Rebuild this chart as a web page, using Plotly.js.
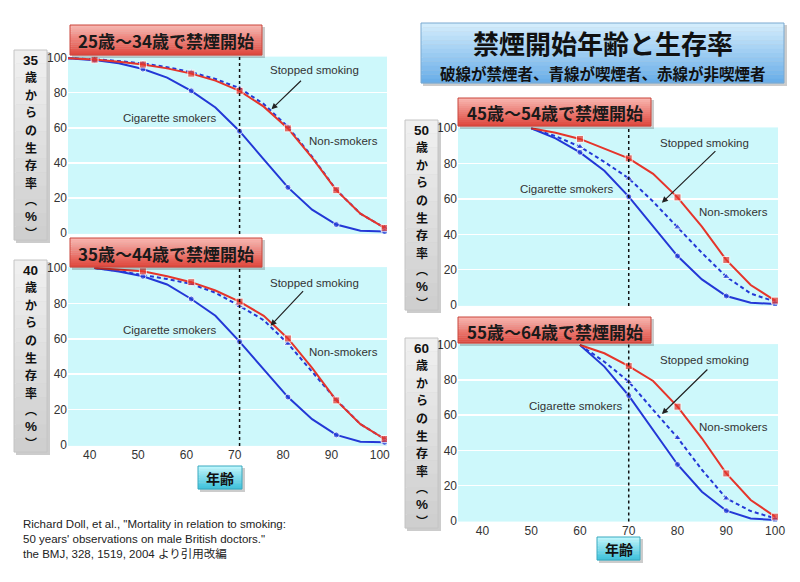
<!DOCTYPE html>
<html>
<head>
<meta charset="utf-8">
<script src="https://cdn.plot.ly/plotly-3.0.1.min.js"></script>
<style>html,body{margin:0;padding:0;background:#fff;}#chart{width:800px;height:582px;}</style>
</head>
<body>
<div id="chart"></div>
<script>
// ---------- DATA ----------
const panelTitles = ["25歳〜34歳で禁煙開始", "35歳〜44歳で禁煙開始", "45歳〜54歳で禁煙開始", "55歳〜64歳で禁煙開始"];
const yTitleAges = ["35", "40", "50", "60"];
const yTitleChars = ["歳", "か", "ら", "の", "生", "存", "率", "︵", "%", "︶"];
const mainTitle = "禁煙開始年齢と生存率";
const subTitle = "破線が禁煙者、青線が喫煙者、赤線が非喫煙者";
const xAxisLabel = "年齢";
const labelStopped = "Stopped smoking";
const labelSmokers = "Cigarette smokers";
const labelNonSmokers = "Non-smokers";
const citation = ["Richard Doll, et al., \"Mortality in relation to smoking:", "50 years' observations on male British doctors.\"", "the BMJ, 328, 1519, 2004 より引用改編"];
const xTicks = [40, 50, 60, 70, 80, 90, 100];
const yTicks = [0, 20, 40, 60, 80, 100];

// Panel A: quit at 25-34 (survival from 35)
const agesA = [35.5, 41, 46, 51, 56, 61, 66, 71, 76, 81, 86, 91, 96, 101];
const nonSmokersA = [99.5, 98.8, 97.6, 96, 93.8, 90.8, 86.8, 81, 72, 59.6, 43, 24.4, 11, 2.9];
const smokersA = [99.5, 98.5, 96.7, 93.4, 88.5, 81, 71.5, 58, 42, 26, 13.3, 4.8, 1.3, 0.8];
const stoppedA = [99.6, 99, 98, 96.6, 94.5, 91.6, 87.8, 82.5, 73.5, 60.5, 43.5, 24.6, 11, 3];
// Panel B: quit at 35-44 (survival from 40)
const agesB = [41, 46, 51, 56, 61, 66, 71, 76, 81, 86, 91, 96, 101];
const nonSmokersB = [100, 99.2, 98.1, 95.3, 92, 87.3, 81, 73, 60.2, 43.6, 25.2, 11.8, 3.4];
const smokersB = [100, 98, 95.3, 90.7, 82.5, 73, 58.4, 42.7, 27.1, 14.6, 5.7, 1.9, 1.5];
const stoppedB = [100, 98.3, 96, 93.8, 91, 86, 78.6, 70.5, 57.3, 41.7, 25.5, 11.8, 3.4];
// Panel C: quit at 45-54 (survival from 50)
const agesC = [50, 55, 60, 65, 70, 75, 80, 85, 90, 95, 100];
const nonSmokersC = [100, 97.5, 94, 88.7, 83, 74.2, 60.9, 44.3, 25.5, 11.3, 2.5];
const smokersC = [100, 94.3, 86.4, 76, 61.3, 44.3, 27.7, 14.5, 5.1, 1.3, 0.6];
const stoppedC = [100, 95.5, 89.6, 81, 71.7, 58.5, 44, 29.5, 16, 6.5, 1.9];
// Panel D: quit at 55-64 (survival from 60)
const agesD = [60, 65, 70, 75, 80, 85, 90, 95, 100];
const nonSmokersD = [100, 95.3, 88, 79.5, 64.9, 46.9, 26.9, 11.8, 2.3];
const smokersD = [100, 87.7, 71.2, 51.6, 32, 16.5, 5.7, 1.3, 0.4];
const stoppedD = [100, 90.5, 79.1, 63, 47.2, 29, 12.7, 5.5, 1.3];
const quitLineAge = [71, 71, 70, 70];

// ---------- LAYOUT HELPERS ----------
const W = 800, H = 582;
const X = p => p / W;
const Y = p => 1 - p / H;
const RED = '#e5352b', BLUE = '#2338d6';
const SANS = '"Liberation Sans", Arial, sans-serif';
const CJK = '"Noto Sans CJK JP", "Noto Sans", sans-serif';

const panels = [
  {ages: agesA, non: nonSmokersA, smk: smokersA, stp: stoppedA, left: 68, right: 387, range: [35.5, 101.5], p100: 57.5, p0: 233, mod: 1, ticks: false,
   label: [70, 25, 262, 55], gray: [14, 50, 47, 240], txt: {s: [86.6, 92.9], c: [56.6, 65.5], n: [92.4, 52.4]}, arrow: [77.6, 70.5, 31, -30]},
  {ages: agesB, non: nonSmokersB, smk: smokersB, stp: stoppedB, left: 68, right: 387, range: [35.5, 101.5], p100: 268, p0: 445, mod: 1, ticks: true,
   label: [70, 238, 262, 267], gray: [14, 260, 47, 452], txt: {s: [86.6, 91.7], c: [56.6, 65], n: [92.4, 52.4]}, arrow: [77.4, 67.4, 34, -36]},
  {ages: agesC, non: nonSmokersC, smk: smokersC, stp: stoppedC, left: 458, right: 778, range: [35, 100.6], p100: 128.3, p0: 305, mod: 0, ticks: false,
   label: [458, 98, 651, 126], gray: [405, 120, 438, 310], txt: {s: [85.6, 91.9], c: [57.3, 65.5], n: [91.4, 52.8]}, arrow: [76.8, 57.9, 55, -53]},
  {ages: agesD, non: nonSmokersD, smk: smokersD, stp: stoppedD, left: 458, right: 778, range: [35, 100.6], p100: 345, p0: 520.7, mod: 0, ticks: true,
   label: [458, 317, 651, 343], gray: [405, 338, 438, 528], txt: {s: [85.6, 91.5], c: [59.2, 65.5], n: [91.4, 53.2]}, arrow: [76.8, 60.7, 47, -46]}
];

const traces = [];
const layout = {
  width: W, height: H,
  margin: {l: 0, r: 0, t: 0, b: 0, pad: 0},
  paper_bgcolor: '#ffffff',
  plot_bgcolor: '#cdf8fb',
  showlegend: false,
  shapes: [],
  annotations: []
};

function hex2rgb(h) { return [1, 3, 5].map(i => parseInt(h.substr(i, 2), 16)); }
function mix(a, b, t) {
  const A = hex2rgb(a), B = hex2rgb(b);
  return 'rgb(' + A.map((v, i) => Math.round(v + (B[i] - v) * t)).join(',') + ')';
}
function gradBox(x0, y0, x1, y1, cTop, cBot, border, shadow) {
  const n = 14;
  if (shadow) {
    layout.shapes.push({type: 'rect', xref: 'paper', yref: 'paper', x0: X(x0 + 2), x1: X(x1 + 3), y0: Y(y1 + 3), y1: Y(y0 + 2),
      fillcolor: 'rgba(0,0,0,0.2)', line: {width: 0}, layer: 'above'});
  }
  for (let i = 0; i < n; i++) {
    const a = y0 + (y1 - y0) * i / n, b = y0 + (y1 - y0) * (i + 1) / n;
    layout.shapes.push({type: 'rect', xref: 'paper', yref: 'paper', x0: X(x0), x1: X(x1), y0: Y(b + 0.3), y1: Y(a),
      fillcolor: mix(cTop, cBot, i / (n - 1)), line: {width: 0}, layer: 'above'});
  }
  layout.shapes.push({type: 'rect', xref: 'paper', yref: 'paper', x0: X(x0), x1: X(x1), y0: Y(y1), y1: Y(y0),
    fillcolor: 'rgba(0,0,0,0)', line: {width: 1, color: border}, layer: 'above'});
}
function paperText(text, cx, cy, size, opts) {
  layout.annotations.push(Object.assign({xref: 'paper', yref: 'paper', x: X(cx), y: Y(cy), text: text, showarrow: false,
    xanchor: 'center', yanchor: 'middle', borderpad: 0, font: {family: CJK, size: size, color: '#111', weight: 'bold'}}, opts || {}));
}

panels.forEach((p, k) => {
  const n = k + 1;
  const xa = 'x' + (n === 1 ? '' : n), ya = 'y' + (n === 1 ? '' : n);
  const s = (p.p0 - p.p100) / 100;
  layout['xaxis' + (n === 1 ? '' : n)] = {
    domain: [X(p.left), X(p.right)], range: p.range, anchor: ya,
    tickvals: xTicks, showticklabels: p.ticks, showgrid: false, zeroline: false, showline: false, ticks: '',
    tickfont: {family: SANS, size: 12, color: '#333'}, fixedrange: true
  };
  layout['yaxis' + (n === 1 ? '' : n)] = {
    domain: [Y(p.p0 + 0.5 * s), Y(p.p100 - 0.5 * s)], range: [-0.5, 100.5], anchor: xa,
    tickvals: yTicks, showgrid: true, gridcolor: '#ffffff', gridwidth: 1.6, zeroline: false, showline: false, ticks: '',
    tickfont: {family: SANS, size: 12, color: '#333'}, fixedrange: true
  };
  const sizes = (sz) => p.ages.map((a, i) => (i > 0 && Math.round(a) % 10 === p.mod) ? sz : 0);
  traces.push({x: p.ages, y: p.stp, xaxis: xa, yaxis: ya, mode: 'lines+markers', type: 'scatter',
    line: {color: BLUE, width: 2, dash: '4px,3px'}, marker: {symbol: 'triangle-up', size: sizes(7), color: BLUE}});
  traces.push({x: p.ages, y: p.smk, xaxis: xa, yaxis: ya, mode: 'lines+markers', type: 'scatter',
    line: {color: BLUE, width: 2}, marker: {symbol: 'circle', size: sizes(6), color: BLUE}});
  traces.push({x: p.ages, y: p.non, xaxis: xa, yaxis: ya, mode: 'lines+markers', type: 'scatter',
    line: {color: RED, width: 2}, marker: {symbol: 'square', size: sizes(7), color: RED}});
  // vertical dotted line
  layout.shapes.push({type: 'line', xref: xa, yref: ya + ' domain', x0: quitLineAge[k], x1: quitLineAge[k], y0: 0, y1: 1,
    line: {color: '#111', width: 1.5, dash: 'dot'}, layer: 'above'});
  // curve labels
  const lf = {family: SANS, size: 11.5, color: '#333'};
  layout.annotations.push({xref: xa, yref: ya, x: p.txt.s[0], y: p.txt.s[1], text: labelStopped, showarrow: false, font: lf});
  layout.annotations.push({xref: xa, yref: ya, x: p.txt.c[0], y: p.txt.c[1], text: labelSmokers, showarrow: false, font: lf});
  layout.annotations.push({xref: xa, yref: ya, x: p.txt.n[0], y: p.txt.n[1], text: labelNonSmokers, showarrow: false, font: lf});
  layout.annotations.push({xref: xa, yref: ya, x: p.arrow[0], y: p.arrow[1], ax: p.arrow[2], ay: p.arrow[3], text: '',
    showarrow: true, arrowhead: 2, arrowsize: 1, arrowwidth: 1.2, arrowcolor: '#222'});
  // red panel label
  const L = p.label;
  gradBox(L[0], L[1], L[2], L[3], '#f8b4ae', '#df4a40', '#c9463d', true);
  paperText(panelTitles[k], (L[0] + L[2]) / 2, (L[1] + L[3]) / 2 + 1, 17, {font: {family: CJK, size: 17, color: '#1a1a1a', weight: 'bold'}});
  // gray vertical y title box: one character per row, stacked without overlap
  const G = p.gray;
  gradBox(G[0], G[1], G[2], G[3], '#efefef', '#cfcfcf', '#c4c4c4', true);
  const cx = (G[0] + G[2]) / 2;
  let top = G[1] + 2.5;
  [yTitleAges[k]].concat(yTitleChars).forEach(c => {
    const latin = /^[0-9%]+$/.test(c);
    const size = latin ? 13.5 : 12;
    const h = size * (latin ? 1.12 : 1.45) + 0.2;
    paperText(c, cx, top + h / 2, size, latin ? {font: {family: SANS, size: size, color: '#111', weight: 'bold'}} : {});
    top += h;
  });
});

// main title box
gradBox(421, 23, 784, 83, '#d2ecfc', '#6aaee8', '#7aa9d0', true);
paperText(mainTitle, 603, 42.5, 26);
paperText(subTitle, 603, 72.5, 15.5);

// x-axis label boxes
gradBox(198, 466, 242, 489, '#bff6fc', '#3ec2db', '#3aa9bf', true);
paperText(xAxisLabel, 220, 477.5, 14);
gradBox(597, 537, 640, 560, '#bff6fc', '#3ec2db', '#3aa9bf', true);
paperText(xAxisLabel, 618.5, 548.5, 14);

// citation
layout.annotations.push({xref: 'paper', yref: 'paper', x: X(21), y: Y(516), xanchor: 'left', yanchor: 'top', align: 'left',
  text: citation.join('<br>'), showarrow: false, font: {family: '"Liberation Sans", Arial, "Noto Sans CJK JP", sans-serif', size: 11.5, color: '#222'}});

Plotly.newPlot('chart', traces, layout, {displayModeBar: false, staticPlot: true});
</script>
</body>
</html>
